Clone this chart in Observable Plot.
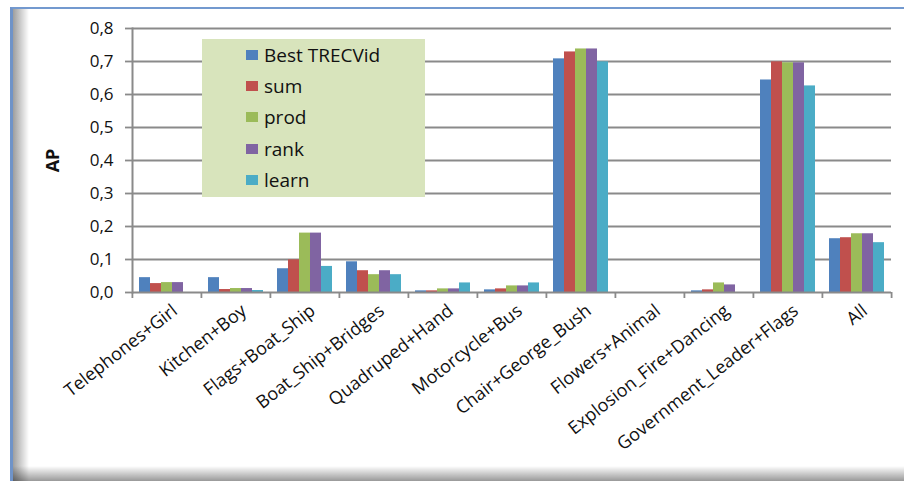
<!DOCTYPE html>
<html>
<head>
<meta charset="utf-8">
<script src="https://cdn.jsdelivr.net/npm/d3@7"></script>
<script src="https://cdn.jsdelivr.net/npm/@observablehq/plot@0.6"></script>
<style>
  body { margin: 0; background: #fff; }
  #wrap { position: relative; width: 904px; height: 481px; overflow: hidden; background: #fff; }
  #chart { position: absolute; left: 0; top: 0; }
  #frame { position: absolute; left: 10px; top: 7px; width: 900px; height: 480px; border-left: 3px solid #6f93c8; border-top: 2px solid #7399cf; box-sizing: border-box; pointer-events: none; }
  #shadowL { position: absolute; left: 13px; top: 9px; width: 16px; height: 472px; background: linear-gradient(to right, rgba(0,0,0,0.38), rgba(0,0,0,0)); pointer-events: none; }
  #shadowB { position: absolute; left: 13px; top: 466px; width: 891px; height: 15px; background: linear-gradient(to bottom, rgba(0,0,0,0), rgba(0,0,0,0.4)); pointer-events: none; }
  #legend { position: absolute; left: 202px; top: 39px; width: 223px; height: 158px; background: #d8e4bc; font-family: "Open Sans", sans-serif; font-size: 19px; color: #111; }
  .item { position: absolute; left: 44px; height: 22px; display: flex; align-items: center; }
  .sw { width: 12px; height: 10px; margin-right: 6px; }
</style>
</head>
<body>
<div id="wrap">
  <div id="chart"></div>
  <div id="shadowL"></div>
  <div id="shadowB"></div>
  <div id="frame"></div>
  <div id="legend"></div>
</div>
<script>
const categories = ["Telephones+Girl", "Kitchen+Boy", "Flags+Boat_Ship", "Boat_Ship+Bridges", "Quadruped+Hand", "Motorcycle+Bus", "Chair+George_Bush", "Flowers+Animal", "Explosion_Fire+Dancing", "Government_Leader+Flags", "All"];
const seriesNames = ["Best TRECVid", "sum", "prod", "rank", "learn"];
const colors = ["#4f81bd", "#c0504d", "#9bbb59", "#8064a2", "#4bacc6"];
const bestTrecvid = [0.045, 0.045, 0.072, 0.093, 0.005, 0.008, 0.708, 0, 0.005, 0.644, 0.163];
const sum         = [0.027, 0.009, 0.099, 0.066, 0.005, 0.011, 0.729, 0, 0.008, 0.699, 0.166];
const prod        = [0.030, 0.012, 0.180, 0.054, 0.011, 0.020, 0.738, 0, 0.029, 0.696, 0.178];
const rank        = [0.030, 0.012, 0.180, 0.066, 0.011, 0.020, 0.738, 0, 0.023, 0.696, 0.178];
const learn       = [0.000, 0.006, 0.079, 0.054, 0.029, 0.029, 0.699, 0, 0.000, 0.626, 0.151];
const yTicks = [0, 0.1, 0.2, 0.3, 0.4, 0.5, 0.6, 0.7, 0.8];

const seriesValues = [bestTrecvid, sum, prod, rank, learn];
const data = categories.flatMap((c, i) => seriesNames.map((s, j) => ({category: c, series: s, value: seriesValues[j][i]})));

const W = 904, H = 481, mL = 131, mR = 12, mT = 28, mB = 189;
const half = (W - mL - mR) / categories.length / 2;
const grid = "#8a8a8a";

const chart = Plot.plot({
  width: W, height: H,
  marginLeft: mL, marginRight: mR, marginTop: mT, marginBottom: mB,
  style: {fontFamily: "'Open Sans', sans-serif", fontSize: "15px", color: "#111", background: "transparent", overflow: "visible"},
  fx: {domain: categories, padding: 0, label: null, axis: null},
  x: {domain: seriesNames, paddingInner: 0, paddingOuter: 0.63, axis: null},
  y: {domain: [0, 0.8], axis: null},
  color: {domain: seriesNames, range: colors},
  marks: [
    Plot.ruleY(yTicks.slice(1), {stroke: grid, strokeWidth: 1.8}),
    Plot.barY(data, {fx: "category", x: "series", y: "value", fill: "series"}),
    Plot.ruleY([0], {stroke: grid, strokeWidth: 2}),
    Plot.frame({anchor: "left", facetAnchor: "left", stroke: grid, strokeWidth: 2}),
    Plot.axisY({ticks: yTicks, tickSize: 7, tickPadding: 12, tickFormat: d => d3.format(".1f")(d).replace(".", ","), stroke: grid, strokeWidth: 1.8, label: null, fontSize: 17}),
    Plot.axisY({ticks: [], label: "AP", labelAnchor: "center", labelArrow: "none", labelOffset: 86, fontWeight: "bold", fontSize: 18}),
    Plot.axisFx({anchor: "bottom", tickSize: 0, tickRotate: -38, tickPadding: 16, dx: 8, label: null, fontSize: 18}),
    Plot.axisFx({anchor: "bottom", tickSize: 6, tickFormat: () => "", dx: -half, stroke: grid, strokeWidth: 1.8, label: null}),
    Plot.axisFx({anchor: "bottom", ticks: [categories[categories.length - 1]], tickSize: 6, tickFormat: () => "", dx: half, stroke: grid, strokeWidth: 1.8, label: null})
  ]
});
document.getElementById("chart").appendChild(chart);

const legend = document.getElementById("legend");
seriesNames.forEach((s, j) => {
  const item = document.createElement("div");
  item.className = "item";
  item.style.top = (5 + j * 31.2) + "px";
  const sw = document.createElement("div");
  sw.className = "sw";
  sw.style.background = colors[j];
  const label = document.createElement("span");
  label.textContent = s;
  item.appendChild(sw);
  item.appendChild(label);
  legend.appendChild(item);
});
</script>
</body>
</html>
